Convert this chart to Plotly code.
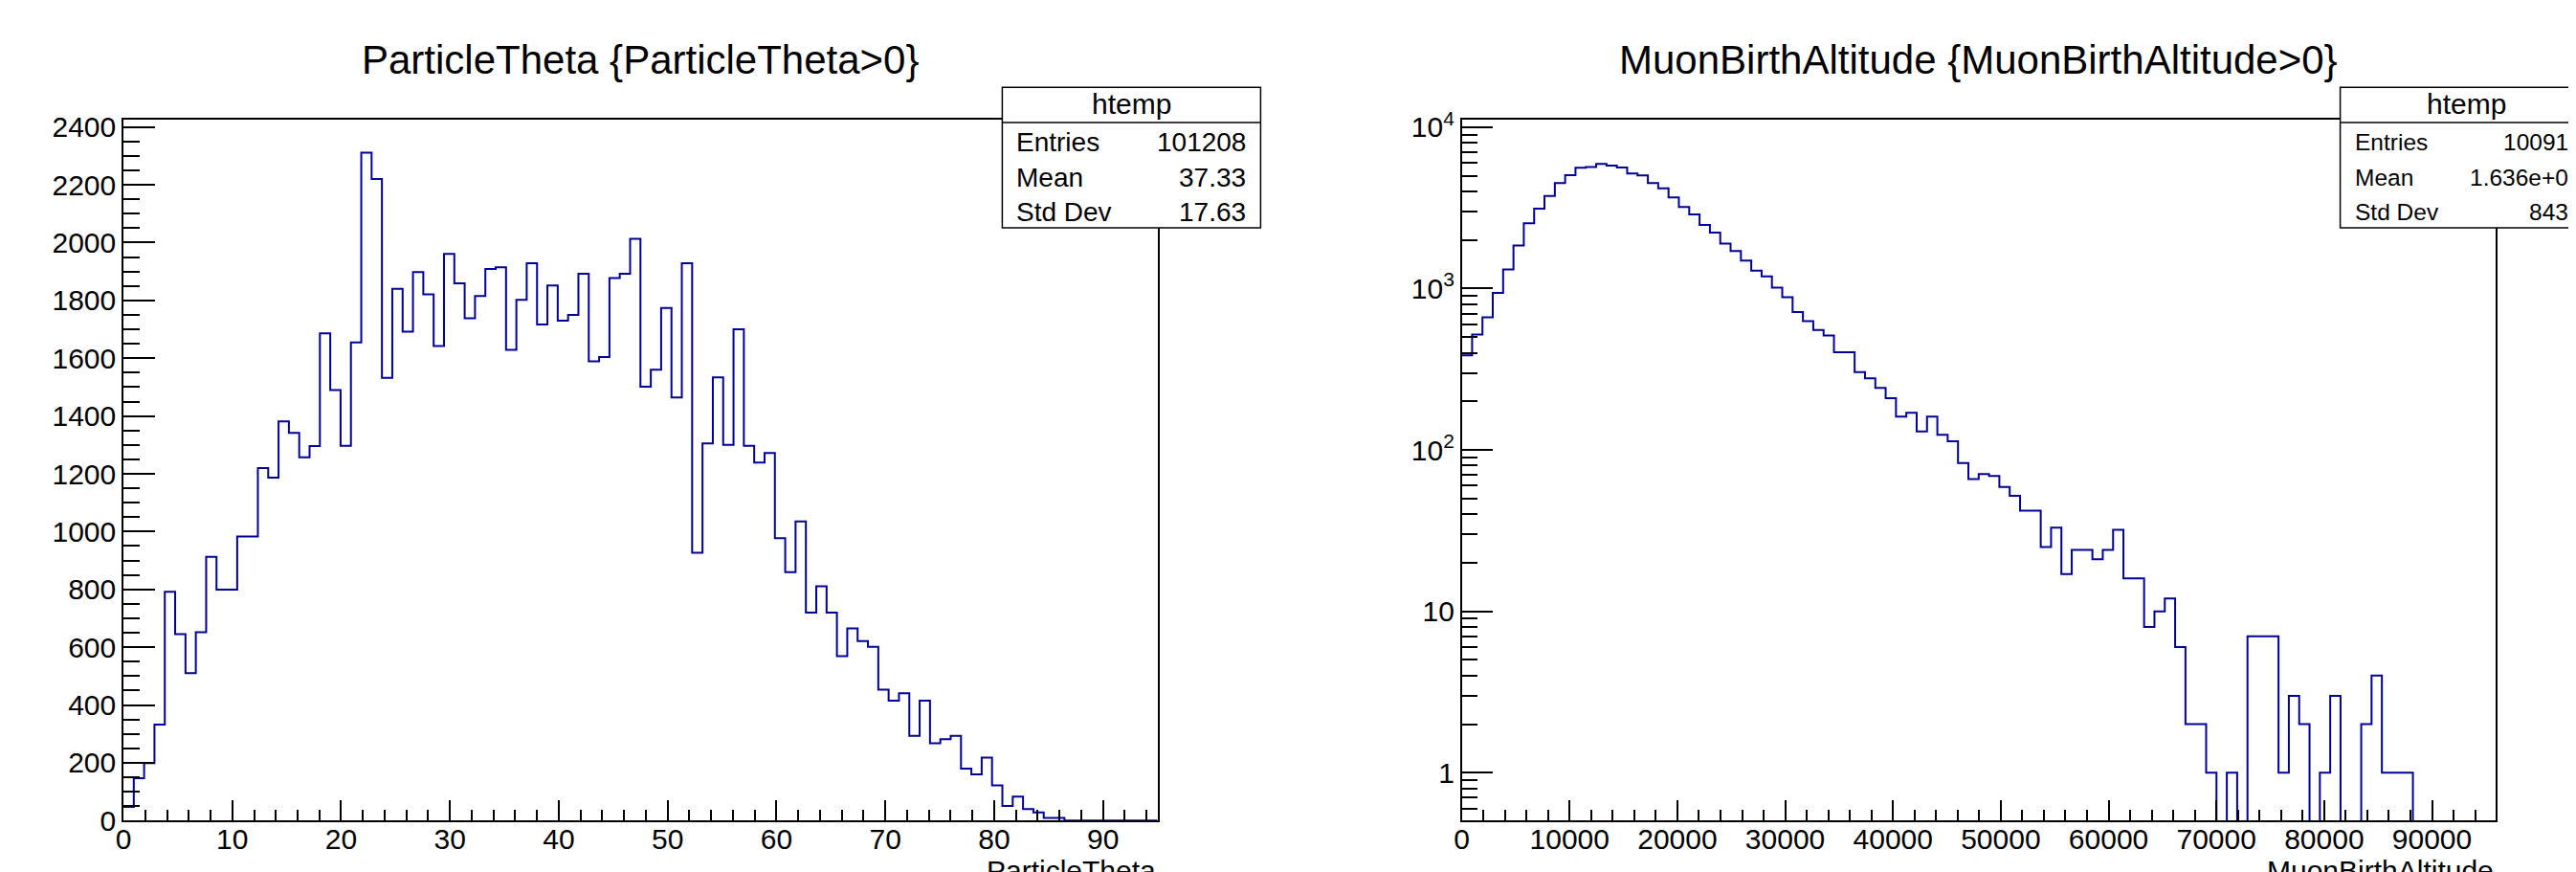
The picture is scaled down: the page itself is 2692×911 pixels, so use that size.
import numpy as np
import plotly.graph_objects as go

W, H = 2692, 911
FONT = "Liberation Sans, Arial, Helvetica, sans-serif"
LINE_COLOR = "#000099"

# ---------------- data ----------------
# Left: ParticleTheta, 100 bins over [0, 95]
theta_range = (0.0, 95.0)
theta_counts = [47, 147, 199, 332, 792, 645, 510, 652, 913, 799,
                799, 983, 983, 1220, 1187, 1381, 1342, 1257, 1296, 1686,
                1490, 1297, 1655, 2311, 2220, 1532, 1840, 1692, 1898, 1821,
                1642, 1961, 1859, 1738, 1815, 1909, 1915, 1629, 1802, 1929,
                1717, 1852, 1730, 1750, 1892, 1589, 1604, 1877, 1892, 2013,
                1501, 1560, 1774, 1464, 1929, 927, 1305, 1534, 1300, 1700,
                1297, 1239, 1272, 977, 860, 1035, 720, 811, 720, 569,
                665, 621, 601, 453, 415, 441, 293, 415, 268, 282,
                293, 180, 160, 218, 122, 51, 83, 40, 28, 9,
                9, 0, 0, 0, 0, 0, 0, 0, 0, 0]
theta_title = "ParticleTheta {ParticleTheta>0}"
theta_xlabel = "ParticleTheta"
theta_stats = [("Entries", "101208"), ("Mean", "37.33"), ("Std Dev", "17.63")]

# Right: MuonBirthAltitude, 100 bins over [0, 95900]
alt_range = (0.0, 95900.0)
alt_counts = [385, 519, 663, 938, 1312, 1845, 2537, 3125, 3748, 4500,
              5036, 5600, 5650, 5907, 5771, 5618, 5157, 5015, 4500, 4178,
              3665, 3199, 2879, 2478, 2222, 1897, 1709, 1492, 1289, 1188,
              1012, 883, 714, 629, 553, 512, 403, 403, 304, 278,
              242, 209, 161, 170, 130, 161, 124, 113, 83, 66,
              71, 69, 59, 52, 42, 42, 25, 33, 17, 24,
              24, 21, 24, 32, 16, 16, 8, 10, 12, 6,
              2, 2, 1, 0, 1, 0, 7, 7, 7, 1,
              3, 2, 0, 1, 3, 0, 0, 2, 4, 1,
              1, 1, 0, 0, 0, 0, 0, 0, 0, 0]
alt_title = "MuonBirthAltitude {MuonBirthAltitude>0}"
alt_xlabel = "MuonBirthAltitude"
alt_stats = [("Entries", "100918"), ("Mean", "1.636e+04"), ("Std Dev", "8432")]

log_major_vals = [1, 10, 100, 1000, 10000]
log_major_text = ["1", "10", "10<sup>2</sup>", "10<sup>3</sup>", "10<sup>4</sup>"]


# ---------------- helpers (layout positions in pixels) ----------------
def px(x):
    return x / W


def py(y):
    return 1 - y / H


def step_xy(rng, counts):
    edges = np.linspace(rng[0], rng[1], len(counts) + 1)
    ys = list(counts) + [counts[-1]]
    return edges, np.array(ys, dtype=float)


fig = go.Figure()

tx, ty = step_xy(theta_range, theta_counts)
fig.add_trace(go.Scatter(x=tx, y=ty, mode="lines", line_shape="hv",
                         line=dict(color=LINE_COLOR, width=2),
                         xaxis="x", yaxis="y", hoverinfo="skip"))

ax, ay = step_xy(alt_range, alt_counts)
ay_plot = np.where(ay > 0, ay, 1e-3)  # empty bins drop to the frame bottom
fig.add_trace(go.Scatter(x=ax, y=ay_plot, mode="lines", line_shape="hv",
                         line=dict(color=LINE_COLOR, width=2),
                         xaxis="x2", yaxis="y2", hoverinfo="skip"))

common = dict(showline=True, linecolor="black", linewidth=1.5, mirror=True,
              ticks="inside", tickcolor="black", tickwidth=1.5,
              showgrid=False, zeroline=False, automargin=False,
              tickfont=dict(family=FONT, size=30, color="black"))

L_left, L_right = 121.0, 1201.6
R_left, R_right = 1519.6, 2600.0
F_top, F_bot = 116.7, 849.3

fig.update_layout(
    template="none",
    width=W, height=H,
    margin=dict(l=0, r=0, t=0, b=0, autoexpand=False),
    paper_bgcolor="white", plot_bgcolor="white",
    showlegend=False,
    xaxis=dict(domain=[px(L_left), px(L_right)], range=list(theta_range),
               anchor="y", dtick=10, tick0=0, ticklen=22, ticklabelstandoff=-8,
               minor=dict(ticks="inside", ticklen=12, dtick=2, tick0=0,
                          tickcolor="black", tickwidth=1.5, showgrid=False),
               **common),
    yaxis=dict(domain=[py(F_bot), py(F_top)], range=[0, 2426.5],
               anchor="x", dtick=200, tick0=0, ticklen=33,
               minor=dict(ticks="inside", ticklen=17, dtick=50, tick0=0,
                          tickcolor="black", tickwidth=1.5, showgrid=False),
               **common),
    xaxis2=dict(domain=[px(R_left), px(R_right)], range=list(alt_range),
                anchor="y2", dtick=10000, tick0=0, ticklen=22, tickformat="d",
                ticklabelstandoff=-8,
                minor=dict(ticks="inside", ticklen=12, dtick=2000, tick0=0,
                           tickcolor="black", tickwidth=1.5, showgrid=False),
                **common),
    yaxis2=dict(domain=[py(F_bot), py(F_top)], type="log",
                range=[-0.2962, 4.048], anchor="x2",
                tickmode="array", tickvals=log_major_vals, ticktext=log_major_text,
                ticklen=33,
                minor=dict(ticks="inside", ticklen=17, tickmode="array",
                           tickvals=[m * 10 ** e for e in range(-1, 4) for m in range(2, 10)],
                           tickcolor="black", tickwidth=1.5, showgrid=False),
                **common),
)

annotations = []
shapes = []


def add_text(text, x, y, size, xanchor="center", yanchor="middle"):
    annotations.append(dict(text=text, x=px(x), y=py(y), xref="paper", yref="paper",
                            xanchor=xanchor, yanchor=yanchor, showarrow=False,
                            font=dict(family=FONT, size=size, color="black")))


# titles
add_text(theta_title, (L_left + L_right) / 2, 54.5, 42)
add_text(alt_title, (R_left + R_right) / 2, 54.5, 42)
# axis titles (bottom-right, partly cut by the canvas edge as in the original)
add_text(theta_xlabel, L_right, 901.5, 30, xanchor="right")
add_text(alt_xlabel, R_right, 901.5, 30, xanchor="right")


def stats_box(x0, x1, rows, size, label_x, value_x):
    shapes.append(dict(type="rect", xref="paper", yref="paper",
                       x0=px(x0), x1=px(x1), y0=py(230), y1=py(83.3),
                       line=dict(color="black", width=1.5), fillcolor="white",
                       layer="above"))
    shapes.append(dict(type="line", xref="paper", yref="paper",
                       x0=px(x0), x1=px(x1), y0=py(120), y1=py(120),
                       line=dict(color="black", width=1.5), layer="above"))
    add_text("htemp", (x0 + x1) / 2, 101, 30)
    for (lab, val), yc in zip(rows, [140, 177, 213]):
        add_text(lab, label_x, yc, size, xanchor="left")
        add_text(val, value_x, yc, size, xanchor="right")


stats_box(1039.4, 1309.4, theta_stats, 28, 1052, 1296)
stats_box(2437.6, 2702.0, alt_stats, 24.5, 2451, 2692)

fig.update_layout(annotations=annotations, shapes=shapes)
fig.write_html("out.html")
